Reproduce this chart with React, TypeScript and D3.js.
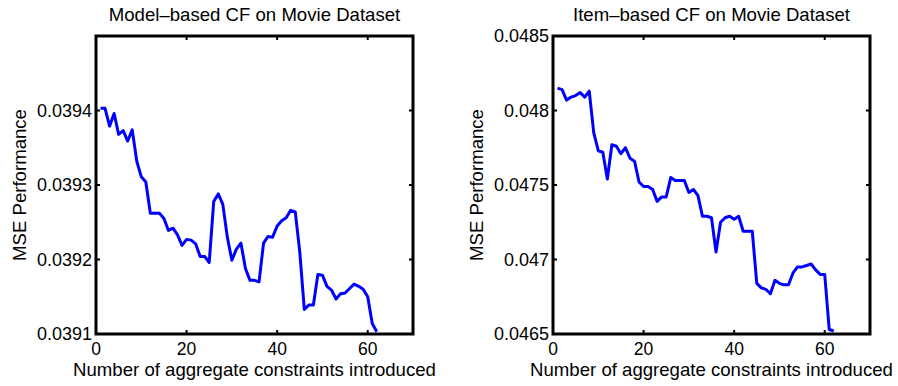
import React from "react";
import * as d3 from "d3";

// x positions: number of aggregate constraints introduced (1..62)
const steps = d3.range(1, 63);

const modelMse = [
  0.039403, 0.039403, 0.039379, 0.039396, 0.039368, 0.039373, 0.039359, 0.039374,
  0.039332, 0.039311, 0.039304, 0.039262, 0.039262, 0.039262, 0.039255, 0.039239,
  0.039242, 0.039233, 0.039219, 0.039227, 0.039226, 0.039221, 0.039204, 0.039204,
  0.039196, 0.039278, 0.039288, 0.039274, 0.03923, 0.039199, 0.039214, 0.039222,
  0.039188, 0.039172, 0.039172, 0.03917, 0.039222, 0.039231, 0.03923, 0.039245,
  0.039252, 0.039256, 0.039266, 0.039264, 0.03921, 0.039133, 0.039139, 0.039139,
  0.03918, 0.039179, 0.039164, 0.039159, 0.039147, 0.039154, 0.039155, 0.039161,
  0.039167, 0.039164, 0.03916, 0.03915, 0.039114, 0.039103,
];

const itemMse = [
  0.04815, 0.04814, 0.04807, 0.04809, 0.0481, 0.04812, 0.04809, 0.04813,
  0.04785, 0.04773, 0.04772, 0.04754, 0.04777, 0.04776, 0.04771, 0.04775,
  0.04768, 0.04766, 0.04752, 0.04749, 0.04749, 0.04747, 0.04739, 0.04742,
  0.04742, 0.04755, 0.04753, 0.04753, 0.04753, 0.04745, 0.04747, 0.04743,
  0.04729, 0.04729, 0.04728, 0.04705, 0.04725, 0.04728, 0.04729, 0.04727,
  0.04729, 0.04719, 0.04719, 0.04719, 0.04684, 0.04681, 0.0468, 0.04677,
  0.04686, 0.04684, 0.04683, 0.04683, 0.04691, 0.04695, 0.04695, 0.04696,
  0.04697, 0.04693, 0.0469, 0.0469, 0.04653, 0.04652,
];

const xTicks = [0, 20, 40, 60];
const modelTicks = [0.0391, 0.0392, 0.0393, 0.0394];
const modelTickLabels = ["0.0391", "0.0392", "0.0393", "0.0394"];
const itemTicks = [0.0465, 0.047, 0.0475, 0.048, 0.0485];
const itemTickLabels = ["0.0465", "0.047", "0.0475", "0.048", "0.0485"];

const FONT = "'Liberation Sans', Arial, Helvetica, sans-serif";

const Panel = ({ left, title, values, yDomain, yTicks, yLabels }) => {
  const top = 36;
  const bottom = 334;
  const right = left + 317;

  const x = d3.scaleLinear().domain([0, 70]).range([left, right]);
  const y = d3.scaleLinear().domain(yDomain).range([bottom, top]);

  const line = d3
    .line<number>()
    .x((d, i) => x(steps[i]))
    .y((d) => y(d));

  const tickLen = 4;

  return (
    <g fontFamily={FONT} fill="#000">
      <text x={(left + right) / 2} y={21} textAnchor="middle" fontSize={18.6}>
        {title}
      </text>

      {/* ticks on all four sides, pointing inward */}
      {xTicks.map((t) => (
        <g key={"x" + t}>
          <line x1={x(t)} x2={x(t)} y1={bottom} y2={bottom - tickLen} stroke="#000" strokeWidth={2} />
          <line x1={x(t)} x2={x(t)} y1={top} y2={top + tickLen} stroke="#000" strokeWidth={2} />
          <text x={x(t)} y={355} textAnchor="middle" fontSize={17.5}>
            {t}
          </text>
        </g>
      ))}
      {yTicks.map((t, i) => (
        <g key={"y" + t}>
          <line x1={left} x2={left + tickLen} y1={y(t)} y2={y(t)} stroke="#000" strokeWidth={2} />
          <line x1={right} x2={right - tickLen} y1={y(t)} y2={y(t)} stroke="#000" strokeWidth={2} />
          <text x={left - 4} y={y(t)} dy="0.36em" textAnchor="end" fontSize={18}>
            {yLabels[i]}
          </text>
        </g>
      ))}

      <path d={line(values)} fill="none" stroke="#0000ff" strokeWidth={3} strokeLinejoin="round" />

      <rect x={left} y={top} width={right - left} height={bottom - top} fill="none" stroke="#000" strokeWidth={3} />

      <text x={(left + right) / 2} y={376} textAnchor="middle" fontSize={18.6}>
        Number of aggregate constraints introduced
      </text>
      <text
        transform={`translate(${left - 70},${(top + bottom) / 2}) rotate(-90)`}
        textAnchor="middle"
        fontSize={18.6}
      >
        MSE Performance
      </text>
    </g>
  );
};

export default function App() {
  return (
    <svg width={898} height={386} style={{ position: "absolute", left: 0, top: 0, background: "#fff" }}>
      <Panel
        left={96}
        title="Model–based CF on Movie Dataset"
        values={modelMse}
        yDomain={[0.0391, 0.0395]}
        yTicks={modelTicks}
        yLabels={modelTickLabels}
      />
      <Panel
        left={553}
        title="Item–based CF on Movie Dataset"
        values={itemMse}
        yDomain={[0.0465, 0.0485]}
        yTicks={itemTicks}
        yLabels={itemTickLabels}
      />
    </svg>
  );
}
